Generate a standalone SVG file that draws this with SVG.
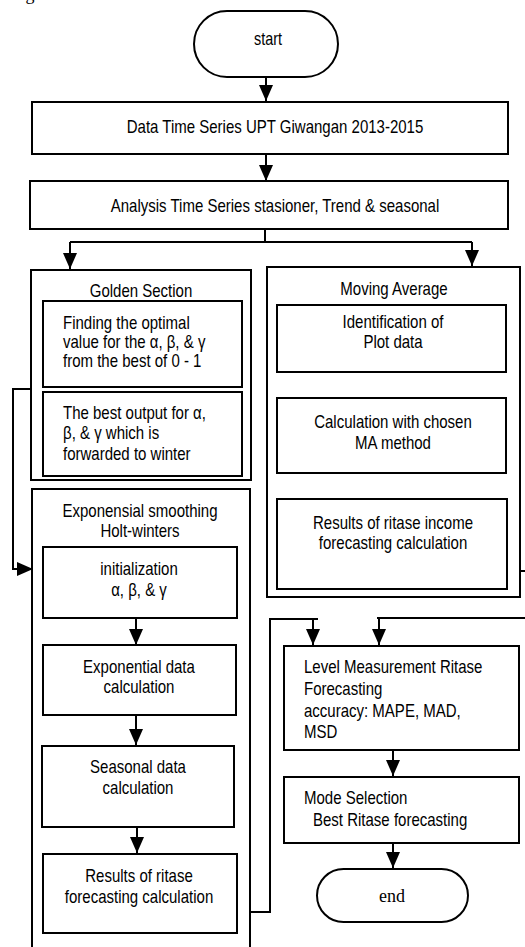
<svg xmlns="http://www.w3.org/2000/svg" width="525" height="947" viewBox="0 0 525 947">
<style>
.b{fill:#fff;stroke:#000;stroke-width:2}
.o{fill:none;stroke:#000;stroke-width:2}
.c{fill:none;stroke:#000;stroke-width:2}
.t{font-family:"Liberation Sans",Arial,sans-serif;font-size:18px;fill:#000}
.m{text-anchor:middle}
.s{font-family:"Liberation Serif","Times New Roman",serif;font-size:18px;fill:#000;text-anchor:middle}
</style>
<defs>
<marker id="ah" markerUnits="userSpaceOnUse" markerWidth="16" markerHeight="14" refX="16" refY="7" orient="auto">
<path d="M0,0 L16,7 L0,14 Z" fill="#000"/>
</marker>
</defs>
<rect width="525" height="947" fill="#fff"/>
<text class="s" x="30" y="-0.5" font-size="20">g</text>

<g id="connectors">
<path class="c" d="M266,77 V101" marker-end="url(#ah)"/>
<path class="c" d="M266,154 V181" marker-end="url(#ah)"/>
<path class="c" d="M265,229 V242"/>
<path class="c" d="M70,242 H472"/>
<path class="c" d="M70,242 V269" marker-end="url(#ah)"/>
<path class="c" d="M472,242 V266" marker-end="url(#ah)"/>
<path class="c" d="M31,389 H13 V569 H33" marker-end="url(#ah)"/>
<path class="c" d="M393,372 V397" marker-end="url(#ah)"/>
<path class="c" d="M393,473 V498" marker-end="url(#ah)"/>
<path class="c" d="M136,618 V645" marker-end="url(#ah)"/>
<path class="c" d="M136,715 V745" marker-end="url(#ah)"/>
<path class="c" d="M137,827 V853" marker-end="url(#ah)"/>
<path class="c" d="M520,571 H525"/>
<path class="c" d="M250,912 H270 V619 H318"/>
<path class="c" d="M313,619 V645" marker-end="url(#ah)"/>
<path class="c" d="M377,618 H525"/>
<path class="c" d="M379,618 V645" marker-end="url(#ah)"/>
<path class="c" d="M393,750 V776" marker-end="url(#ah)"/>
<path class="c" d="M393,843 V868" marker-end="url(#ah)"/>
</g>

<g id="start">
<rect class="b" x="194" y="11" width="144" height="66" rx="33"/>
<text class="t m" font-size="16" transform="matrix(0.8 0 0 1 268 0)" x="0" y="45">start</text>
</g>

<g id="data">
<rect class="b" x="32" y="102" width="476" height="52"/>
<text class="t m" transform="matrix(0.834 0 0 1 275 0)" x="0" y="133">Data Time Series UPT Giwangan 2013-2015</text>
</g>

<g id="analysis">
<rect class="b" x="30" y="181" width="478" height="48"/>
<text class="t m" transform="matrix(0.834 0 0 1 275 0)" x="0" y="212">Analysis Time Series stasioner, Trend &amp; seasonal</text>
</g>

<g id="golden">
<rect class="b" x="31" y="270" width="220" height="210"/>
<text class="t m" transform="matrix(0.834 0 0 1 141 0)" x="0" y="297">Golden Section</text>
</g>
<g id="finding">
<rect class="b" x="43" y="301" width="199" height="86"/>
<text class="t" transform="matrix(0.834 0 0 1 63 0)" x="0" y="329">Finding the optimal</text>
<text class="t" transform="matrix(0.834 0 0 1 63 0)" x="0" y="348">value for the α, β, &amp; γ</text>
<text class="t" transform="matrix(0.834 0 0 1 63 0)" x="0" y="367">from the best of 0 - 1</text>
</g>
<g id="bestoutput">
<rect class="b" x="43" y="392" width="199" height="84"/>
<text class="t" transform="matrix(0.834 0 0 1 63 0)" x="0" y="419">The best output for α,</text>
<text class="t" transform="matrix(0.834 0 0 1 63 0)" x="0" y="439">β, &amp; γ which is</text>
<text class="t" transform="matrix(0.834 0 0 1 63 0)" x="0" y="460">forwarded to winter</text>
</g>

<g id="holtwinters">
<path class="o" d="M32,960 V489 H250 V960"/>
<text class="t m" transform="matrix(0.834 0 0 1 140 0)" x="0" y="517">Exponensial smoothing</text>
<text class="t m" transform="matrix(0.834 0 0 1 140 0)" x="0" y="537">Holt-winters</text>
</g>
<g id="init">
<rect class="b" x="43" y="547" width="194" height="71"/>
<text class="t m" transform="matrix(0.834 0 0 1 139 0)" x="0" y="575">initialization</text>
<text class="t m" transform="matrix(0.834 0 0 1 139 0)" x="0" y="596">α, β, &amp; γ</text>
</g>
<g id="expdata">
<rect class="b" x="43" y="645" width="193" height="70"/>
<text class="t m" transform="matrix(0.834 0 0 1 139 0)" x="0" y="673">Exponential data</text>
<text class="t m" transform="matrix(0.834 0 0 1 139 0)" x="0" y="693">calculation</text>
</g>
<g id="seasonal">
<rect class="b" x="42" y="746" width="192" height="81"/>
<text class="t m" transform="matrix(0.834 0 0 1 138 0)" x="0" y="773">Seasonal data</text>
<text class="t m" transform="matrix(0.834 0 0 1 138 0)" x="0" y="794">calculation</text>
</g>
<g id="results">
<rect class="b" x="43" y="854" width="194" height="79"/>
<text class="t m" transform="matrix(0.834 0 0 1 139 0)" x="0" y="882">Results of ritase</text>
<text class="t m" transform="matrix(0.834 0 0 1 139 0)" x="0" y="903">forecasting calculation</text>
</g>

<g id="movingaverage">
<rect class="b" x="267" y="267" width="253" height="330"/>
<text class="t m" transform="matrix(0.834 0 0 1 394 0)" x="0" y="295">Moving Average</text>
</g>
<g id="identification">
<rect class="b" x="277" y="305" width="229" height="67"/>
<text class="t m" transform="matrix(0.834 0 0 1 393 0)" x="0" y="328">Identification of</text>
<text class="t m" transform="matrix(0.834 0 0 1 393 0)" x="0" y="348">Plot data</text>
</g>
<g id="machosen">
<rect class="b" x="277" y="398" width="229" height="75"/>
<text class="t m" transform="matrix(0.834 0 0 1 393 0)" x="0" y="428">Calculation with chosen</text>
<text class="t m" transform="matrix(0.834 0 0 1 393 0)" x="0" y="449">MA method</text>
</g>
<g id="maresults">
<rect class="b" x="277" y="499" width="230" height="90"/>
<text class="t m" transform="matrix(0.834 0 0 1 393 0)" x="0" y="529">Results of ritase income</text>
<text class="t m" transform="matrix(0.834 0 0 1 393 0)" x="0" y="549">forecasting calculation</text>
</g>

<g id="level">
<rect class="b" x="284" y="646" width="235" height="104"/>
<text class="t" transform="matrix(0.834 0 0 1 304 0)" x="0" y="673">Level Measurement Ritase</text>
<text class="t" transform="matrix(0.834 0 0 1 304 0)" x="0" y="695">Forecasting</text>
<text class="t" transform="matrix(0.834 0 0 1 304 0)" x="0" y="717">accuracy: MAPE, MAD,</text>
<text class="t" transform="matrix(0.834 0 0 1 304 0)" x="0" y="738">MSD</text>
</g>
<g id="mode">
<rect class="b" x="284" y="777" width="235" height="66"/>
<text class="t" transform="matrix(0.834 0 0 1 304 0)" x="0" y="804">Mode Selection</text>
<text class="t" transform="matrix(0.834 0 0 1 313 0)" x="0" y="826">Best Ritase forecasting</text>
</g>
<g id="end">
<rect class="b" x="317" y="869" width="151" height="53" rx="26.5"/>
<text class="s" x="392" y="902">end</text>
</g>
</svg>
